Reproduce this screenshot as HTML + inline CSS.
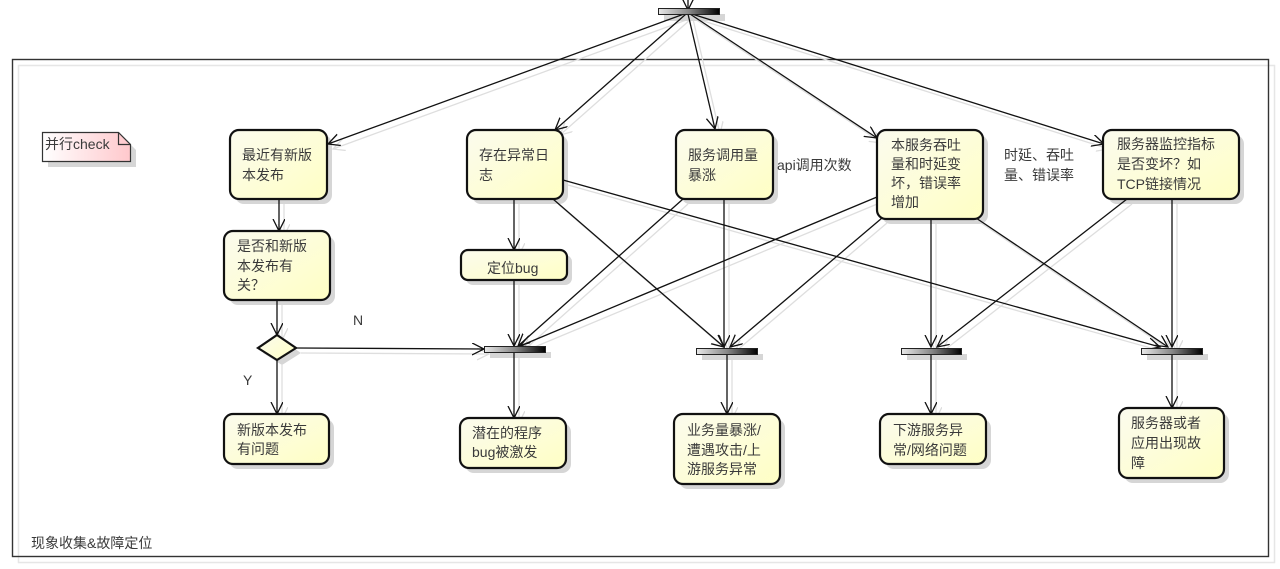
<!DOCTYPE html>
<html><head><meta charset="utf-8"><style>
html,body{margin:0;padding:0;background:#fff;}
svg{display:block;}
text{font-family:"Liberation Sans","Noto Sans CJK SC",sans-serif;font-size:14px;fill:#3a3a3a;}
</style></head><body>
<svg width="1280" height="569" viewBox="0 0 1280 569" xmlns="http://www.w3.org/2000/svg">
<defs>
<linearGradient id="ny" x1="0" y1="0" x2="1" y2="1">
<stop offset="0" stop-color="#fbfbee"/><stop offset="1" stop-color="#ffffc4"/>
</linearGradient>
<linearGradient id="bar" x1="0" y1="0" x2="1" y2="0">
<stop offset="0" stop-color="#e8e8e8"/><stop offset="0.5" stop-color="#888"/><stop offset="1" stop-color="#000"/>
</linearGradient>
<linearGradient id="pk" x1="0" y1="0" x2="1" y2="0">
<stop offset="0" stop-color="#fff"/><stop offset="1" stop-color="#ffc8cc"/>
</linearGradient>
<marker id="ab" markerUnits="userSpaceOnUse" markerWidth="14" markerHeight="14" refX="12" refY="6" orient="auto">
<path d="M0,0 L12,6 L0,12" fill="none" stroke="#111" stroke-width="1.3"/>
</marker>
<marker id="ag" markerUnits="userSpaceOnUse" markerWidth="14" markerHeight="14" refX="12" refY="6" orient="auto">
<path d="M0,0 L12,6 L0,12" fill="none" stroke="#ddd" stroke-width="1.3"/>
</marker>
</defs>

<!-- frame shadow + frame -->
<rect x="18.5" y="65.5" width="1256" height="497" fill="none" stroke="#e6e6e6" stroke-width="1.5"/>
<rect x="12.5" y="59.5" width="1256" height="497" fill="none" stroke="#333" stroke-width="1.4"/>
<text x="31" y="548">现象收集&amp;故障定位</text>

<!-- edges shadow -->
<g transform="translate(5,5)" stroke="#dedede" stroke-width="1.3" fill="none" marker-end="url(#ag)">
<line x1="684" y1="14" x2="328" y2="144"/>
<line x1="686" y1="14" x2="555" y2="130"/>
<line x1="688" y1="14" x2="715" y2="129"/>
<line x1="690" y1="14" x2="877" y2="138"/>
<line x1="692" y1="14" x2="1104" y2="144"/>
<line x1="279" y1="199" x2="279" y2="231"/>
<line x1="277" y1="300" x2="277" y2="335"/>
<line x1="296" y1="348" x2="484" y2="349"/>
<line x1="277" y1="360" x2="277" y2="414"/>
<line x1="514" y1="199" x2="514" y2="250"/>
<line x1="514" y1="280" x2="514" y2="346"/>
<line x1="553" y1="199" x2="724" y2="347"/>
<line x1="563" y1="180" x2="1160" y2="347"/>
<line x1="683" y1="199" x2="518" y2="346"/>
<line x1="877" y1="197" x2="520" y2="346"/>
<line x1="724" y1="199" x2="724" y2="347"/>
<line x1="882" y1="218" x2="730" y2="347"/>
<line x1="931" y1="219" x2="931" y2="347"/>
<line x1="976" y1="218" x2="1168" y2="347"/>
<line x1="1127" y1="199" x2="937" y2="347"/>
<line x1="1172" y1="199" x2="1172" y2="347"/>
<line x1="514" y1="352" x2="514" y2="418"/>
<line x1="727" y1="354" x2="727" y2="414"/>
<line x1="931" y1="354" x2="931" y2="414"/>
<line x1="1172" y1="354" x2="1172" y2="408"/>
</g>

<!-- shadows of shapes -->
<g fill="#d6d6d6">
<rect x="235" y="135" width="97" height="69" rx="9"/>
<rect x="472" y="135" width="96" height="69" rx="9"/>
<rect x="681" y="135" width="97" height="69" rx="9"/>
<rect x="882" y="135" width="106" height="89" rx="9"/>
<rect x="1108" y="135" width="136" height="69" rx="9"/>
<rect x="229" y="236" width="106" height="69" rx="9"/>
<rect x="466" y="255" width="106" height="30" rx="7"/>
<rect x="229" y="419" width="105" height="50" rx="9"/>
<rect x="465" y="423" width="106" height="50" rx="9"/>
<rect x="679" y="419" width="106" height="70" rx="9"/>
<rect x="885" y="419" width="106" height="50" rx="9"/>
<rect x="1124" y="413" width="105" height="70" rx="9"/>
<rect x="664" y="14" width="61" height="7"/>
<rect x="490" y="352" width="61" height="6"/>
<rect x="702" y="354" width="61" height="6"/>
<rect x="907" y="354" width="60" height="6"/>
<rect x="1147" y="354" width="61" height="6"/>
<polygon points="282,340 301,353 282,365 263,353"/>
<polygon points="48,138 124,138 136,150 136,167 48,167"/>
</g>

<!-- edges -->
<g stroke="#111" stroke-width="1.3" fill="none" marker-end="url(#ab)">
<line x1="688" y1="0" x2="688" y2="10"/>
<line x1="684" y1="14" x2="328" y2="144"/>
<line x1="686" y1="14" x2="555" y2="130"/>
<line x1="688" y1="14" x2="715" y2="129"/>
<line x1="690" y1="14" x2="877" y2="138"/>
<line x1="692" y1="14" x2="1104" y2="144"/>
<line x1="279" y1="199" x2="279" y2="231"/>
<line x1="277" y1="300" x2="277" y2="335"/>
<line x1="296" y1="348" x2="484" y2="349"/>
<line x1="277" y1="360" x2="277" y2="414"/>
<line x1="514" y1="199" x2="514" y2="250"/>
<line x1="514" y1="280" x2="514" y2="346"/>
<line x1="553" y1="199" x2="724" y2="347"/>
<line x1="563" y1="180" x2="1160" y2="347"/>
<line x1="683" y1="199" x2="518" y2="346"/>
<line x1="877" y1="197" x2="520" y2="346"/>
<line x1="724" y1="199" x2="724" y2="347"/>
<line x1="882" y1="218" x2="730" y2="347"/>
<line x1="931" y1="219" x2="931" y2="347"/>
<line x1="976" y1="218" x2="1168" y2="347"/>
<line x1="1127" y1="199" x2="937" y2="347"/>
<line x1="1172" y1="199" x2="1172" y2="347"/>
<line x1="514" y1="352" x2="514" y2="418"/>
<line x1="727" y1="354" x2="727" y2="414"/>
<line x1="931" y1="354" x2="931" y2="414"/>
<line x1="1172" y1="354" x2="1172" y2="408"/>
</g>

<!-- bars -->
<g fill="url(#bar)" stroke="#222" stroke-width="1">
<rect x="658.5" y="8.5" width="61" height="6"/>
<rect x="484.5" y="346.5" width="61" height="6"/>
<rect x="696.5" y="348.5" width="61" height="6"/>
<rect x="901.5" y="348.5" width="60" height="6"/>
<rect x="1141.5" y="348.5" width="61" height="6"/>
</g>

<!-- nodes -->
<g fill="url(#ny)" stroke="#111" stroke-width="2.2">
<rect x="230" y="130" width="97" height="69" rx="9"/>
<rect x="467" y="130" width="96" height="69" rx="9"/>
<rect x="676" y="130" width="97" height="69" rx="9"/>
<rect x="877" y="130" width="106" height="89" rx="9"/>
<rect x="1103" y="130" width="136" height="69" rx="9"/>
<rect x="224" y="231" width="106" height="69" rx="9"/>
<rect x="461" y="250" width="106" height="30" rx="7"/>
<rect x="224" y="414" width="105" height="50" rx="9"/>
<rect x="460" y="418" width="106" height="50" rx="9"/>
<rect x="674" y="414" width="106" height="70" rx="9"/>
<rect x="880" y="414" width="106" height="50" rx="9"/>
<rect x="1119" y="408" width="105" height="70" rx="9"/>
<polygon points="277,335 296,348 277,360 258,348"/>
</g>

<!-- note -->
<polygon points="42.5,132.5 118.5,132.5 130.5,144.5 130.5,161.5 42.5,161.5" fill="url(#pk)" stroke="#333" stroke-width="1.2"/>
<polyline points="118.5,132.5 118.5,144.5 130.5,144.5" fill="none" stroke="#333" stroke-width="1.2"/>
<text x="45" y="149">并行check</text>

<!-- texts -->
<text x="242" y="160">最近有新版</text>
<text x="242" y="180">本发布</text>
<text x="479" y="160">存在异常日</text>
<text x="479" y="180">志</text>
<text x="688" y="160">服务调用量</text>
<text x="688" y="180">暴涨</text>
<text x="777" y="170">api调用次数</text>
<text x="891" y="150">本服务吞吐</text>
<text x="891" y="169">量和时延变</text>
<text x="891" y="188">坏，错误率</text>
<text x="891" y="207">增加</text>
<text x="1004" y="160">时延、吞吐</text>
<text x="1004" y="180">量、错误率</text>
<text x="1117" y="149">服务器监控指标</text>
<text x="1117" y="169">是否变坏？如</text>
<text x="1117" y="189">TCP链接情况</text>
<text x="237" y="251">是否和新版</text>
<text x="237" y="271">本发布有</text>
<text x="237" y="290">关？</text>
<text x="487" y="273">定位bug</text>
<text x="353" y="325">N</text>
<text x="243" y="385">Y</text>
<text x="237" y="435">新版本发布</text>
<text x="237" y="454">有问题</text>
<text x="472" y="438">潜在的程序</text>
<text x="472" y="457">bug被激发</text>
<text x="687" y="435">业务量暴涨/</text>
<text x="687" y="455">遭遇攻击/上</text>
<text x="687" y="474">游服务异常</text>
<text x="893" y="435">下游服务异</text>
<text x="893" y="455">常/网络问题</text>
<text x="1131" y="428">服务器或者</text>
<text x="1131" y="448">应用出现故</text>
<text x="1131" y="468">障</text>
</svg>
</body></html>
